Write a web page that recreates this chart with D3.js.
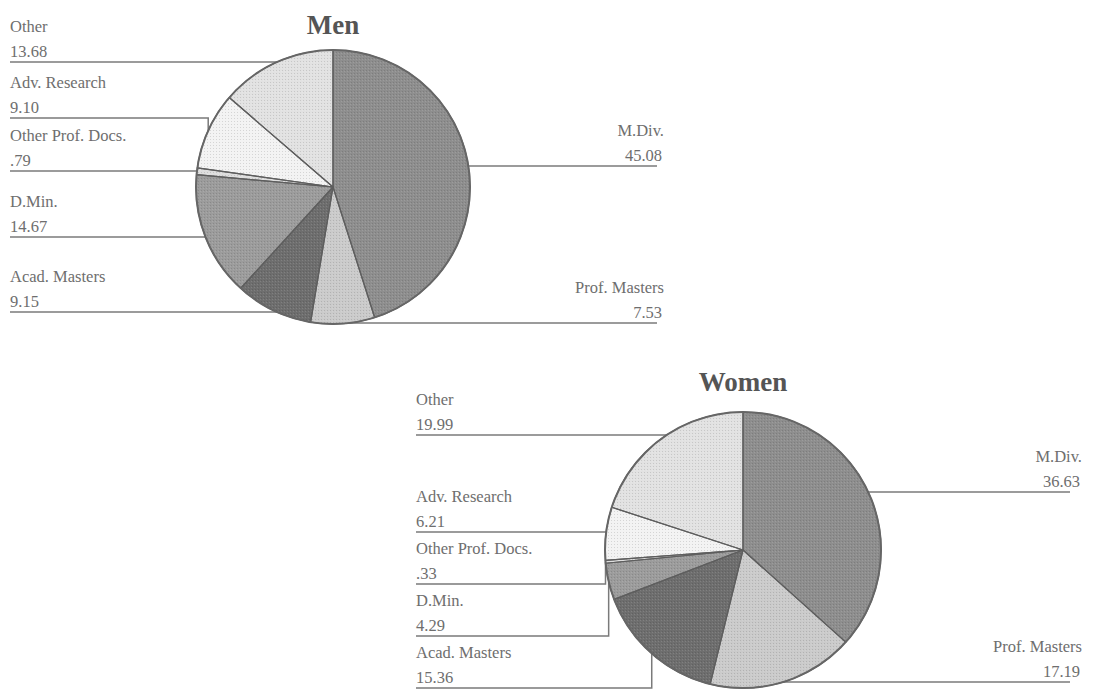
<!DOCTYPE html>
<html>
<head>
<meta charset="utf-8">
<script src="https://cdn.jsdelivr.net/npm/d3@7"></script>
<style>
  html, body { margin: 0; padding: 0; background: #fff; }
  svg { display: block; }
</style>
</head>
<body>
<svg id="chart" width="1098" height="690"></svg>
<script>
// ---- data ----
const categories = ["M.Div.", "Prof. Masters", "Acad. Masters", "D.Min.", "Other Prof. Docs.", "Adv. Research", "Other"];
const menValues = [45.08, 7.53, 9.15, 14.67, 0.79, 9.10, 13.68];
const womenValues = [36.63, 17.19, 15.36, 4.29, 0.33, 6.21, 19.99];
const titles = ["Men", "Women"];

// ---- styles ----
const sliceColors = ["#8e8e8e", "#cbcbcb", "#6e6e6e", "#9c9c9c", "#dedede", "#f3f3f3", "#e2e2e2"];
const textColor = "#6e6e6e";
const lineColor = "#7a7a7a";

// ---- layout (positions of each pie and its leader lines) ----
const layouts = [
  { cx: 333, cy: 187, r: 137, titleY: 34,
    leftX: 10, rightX: 664, rightLineEnd: 657,
    lineY: [166, 323, 312, 237, 171, 118, 62] },
  { cx: 743, cy: 550, r: 138, titleY: 391,
    leftX: 416, rightX: 1082, rightLineEnd: 1070,
    lineY: [492, 682, 688, 636, 584, 532, 435] }
];

const svg = d3.select("#chart");
const fmt = v => d3.format(".2f")(v).replace(/^0\./, ".");

// halftone-like texture
const defs = svg.append("defs");
const pat = defs.append("pattern").attr("id", "dots")
  .attr("width", 3).attr("height", 3).attr("patternUnits", "userSpaceOnUse");
pat.append("rect").attr("x", 0).attr("y", 0).attr("width", 1).attr("height", 1)
  .attr("fill", "#000").attr("opacity", 0.12);
pat.append("rect").attr("x", 2).attr("y", 1).attr("width", 1).attr("height", 1)
  .attr("fill", "#fff").attr("opacity", 0.12);

function drawPie(values, title, L) {
  const g = svg.append("g");
  const pie = d3.pie().sort(null).value(d => d)(values);
  const arc = d3.arc().innerRadius(0).outerRadius(L.r);

  // leaders (drawn first, pie covers any overlap)
  const leaders = g.append("g");
  pie.forEach((d, i) => {
    const a = (d.startAngle + d.endAngle) / 2;
    const rx = L.cx + L.r * Math.sin(a);
    const ry = L.cy - L.r * Math.cos(a);
    const ly = L.lineY[i];
    const right = i < 2;
    const endX = right ? L.rightLineEnd : L.leftX;
    let path;
    if (Math.abs(ly - ry) <= 5) {
      path = `M${right ? rx - 6 : rx + 6},${ly}H${endX}`;
    } else {
      path = `M${rx},${ry}V${ly}H${endX}`;
    }
    leaders.append("path").attr("d", path)
      .attr("fill", "none").attr("stroke", lineColor).attr("stroke-width", 1.5);

    const tx = right ? L.rightX : L.leftX;
    const anchor = right ? "end" : "start";
    leaders.append("text").attr("x", tx).attr("y", ly - 30)
      .attr("text-anchor", anchor).text(categories[i]);
    leaders.append("text").attr("x", right ? tx - 2 : tx).attr("y", ly - 5)
      .attr("text-anchor", anchor).text(fmt(values[i]));
  });
  leaders.selectAll("text")
    .attr("font-family", "'Liberation Serif', 'Times New Roman', serif")
    .attr("font-size", 16.5).attr("fill", textColor);

  // slices
  const pg = g.append("g").attr("transform", `translate(${L.cx},${L.cy})`);
  pg.selectAll("path.slice").data(pie).join("path")
    .attr("class", "slice")
    .attr("d", arc)
    .attr("fill", (d, i) => sliceColors[i]);
  pg.selectAll("path.tex").data(pie).join("path")
    .attr("class", "tex")
    .attr("d", arc)
    .attr("fill", "url(#dots)");
  pg.selectAll("path.edge").data(pie).join("path")
    .attr("class", "edge")
    .attr("d", arc)
    .attr("fill", "none")
    .attr("stroke", "#5e5e5e").attr("stroke-width", 1.2)
    .attr("stroke-linejoin", "round");
  pg.append("circle").attr("r", L.r).attr("fill", "none")
    .attr("stroke", "#666").attr("stroke-width", 2);

  // title
  g.append("text").attr("x", L.cx).attr("y", L.titleY)
    .attr("text-anchor", "middle")
    .attr("font-family", "'Liberation Serif', 'Times New Roman', serif")
    .attr("font-weight", "bold").attr("font-size", 27).attr("fill", "#555")
    .text(title);
}

drawPie(menValues, titles[0], layouts[0]);
drawPie(womenValues, titles[1], layouts[1]);
</script>
</body>
</html>
